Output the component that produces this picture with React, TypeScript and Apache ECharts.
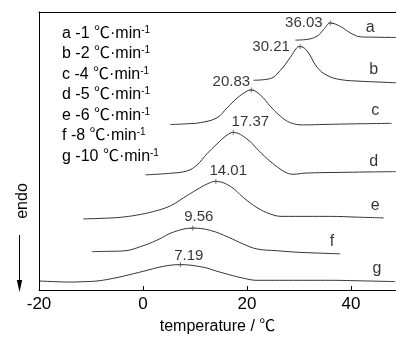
import React, { useEffect, useRef } from 'react';
import * as echarts from 'echarts';

const curveNames = ['a', 'b', 'c', 'd', 'e', 'f', 'g'];
const coolingRates = ['-1', '-2', '-4', '-5', '-6', '-8', '-10'];
const peakTemps = [36.03, 30.21, 20.83, 17.37, 14.01, 9.56, 7.19];

const curveA = [[29.29, 255.3], [31.54, 256], [33.46, 259.3], [34.73, 266], [36.03, 272.7], [37.94, 269.3], [39.87, 262.7], [41.79, 258.7], [44.29, 258.3], [48.65, 258]];
const curveB = [[21.27, 214.3], [24.48, 216], [26.4, 224.3], [28.33, 237.7], [29.62, 247.7], [30.21, 248.7], [31.54, 244.3], [33.46, 227.7], [35.38, 219.3], [37.94, 215], [41.79, 213.3], [45.2, 212.5], [48.65, 211.7]];
const curveC = [[5.25, 169], [8.2, 169.8], [11.02, 171], [14.23, 176], [16.15, 186], [18.08, 196], [20.0, 203.3], [20.83, 204.3], [22.56, 199.3], [24.48, 187.7], [26.4, 177.7], [28.33, 171], [30.88, 168.7], [35.0, 169.2], [41.0, 169.8], [47.8, 170.3]];
const curveD = [[0.44, 117.7], [5.25, 119.3], [8.46, 121.7], [10.38, 127.7], [12.31, 139.3], [14.23, 149.3], [16.15, 158.3], [17.37, 161], [20.0, 154.3], [21.92, 144.3], [23.85, 134.3], [25.9, 125.5], [27.6, 119.8], [29.0, 118.3], [31.0, 119.4], [35.0, 120.0], [39.23, 120.3], [44.0, 120.7], [48.65, 121]];
const curveE = [[-11.48, 72.7], [-7.9, 73.3], [-4.37, 74.3], [-1.2, 76.6], [2.04, 80.3], [5.25, 86], [7.81, 94.3], [10.38, 102.7], [12.31, 108.3], [14.01, 111], [16.79, 106], [19.35, 94.3], [21.92, 84.3], [24.48, 77.7], [26.73, 75.3], [31.4, 75.3], [36.02, 75.3], [41.2, 74.5], [46.27, 73.7]];
const curveF = [[-9.81, 39.3], [-6.8, 39.6], [-3.73, 40], [-0.52, 44.3], [2.69, 51], [5.88, 59.3], [9.56, 63.3], [12.94, 61], [16.4, 54], [19.29, 47], [21.92, 42], [25.8, 40.2], [29.62, 38.7], [33.8, 37.8], [37.94, 37]];
const curveG = [[-19.9, 9.3], [-16.9, 8.6], [-13.98, 8.2], [-11.4, 8.6], [-8.85, 9.3], [-6.3, 11.4], [-3.73, 14.3], [0.12, 19.3], [3.96, 24.3], [7.19, 26], [11.65, 23.3], [14.0, 19.6], [16.4, 16], [19.2, 12.3], [21.92, 10], [29.0, 10], [36.02, 10], [42.3, 9.4], [48.5, 8.7]];
const curves = [curveA, curveB, curveC, curveD, curveE, curveF, curveG];

// annotation anchor positions (data coords) for the curve letters
const letterPos = [[43.71, 269.3], [44.35, 226], [44.67, 184.3], [44.35, 132.7], [44.67, 87.7], [36.35, 51], [45.0, 22.7]];
// peak label offsets (px) relative to peak marker
const peakLabelOffsets = [[-26.5, -1.3], [-29, -0.6], [-20, -10], [17, -12], [12.4, -12], [6, -12.7], [8.4, -10]];

const FONT = '"Liberation Sans", Arial, "Noto Sans CJK SC", sans-serif';
const LINE = '#333';

export default function App() {
  const ref = useRef<HTMLDivElement>(null);
  useEffect(() => {
    if (!ref.current) return;
    const chart = echarts.init(ref.current, null, { renderer: 'svg' });

    const peakData = curves.map((c, i) => {
      const y = c.reduce((m, p) => (p[1] > m ? p[1] : m), -Infinity);
      return {
        value: [peakTemps[i], y],
        label: { offset: peakLabelOffsets[i] },
      };
    });

    const lineSeries = curves.map((c, i) => ({
      type: 'line',
      name: curveNames[i],
      data: c,
      showSymbol: false,
      smooth: 0.4,
      lineStyle: { color: LINE, width: 1 },
      silent: true,
    }));

    const legendTexts = curveNames.map((n, i) => ({
      type: 'text',
      x: 62,
      y: 32.3 + i * 20.45,
      style: {
        text: `{t|${n} ${coolingRates[i]} ℃·min}{s|-1}`,
        verticalAlign: 'middle',
        fill: '#000',
        rich: {
          t: { fontSize: 16, fontFamily: FONT, fill: '#000' },
          s: { fontSize: 10, fontFamily: FONT, fill: '#000', verticalAlign: 'top' },
        },
      },
    }));

    chart.setOption({
      animation: false,
      grid: { left: 39, right: 0, top: 12, bottom: 42 },
      xAxis: [
        {
          type: 'value',
          min: -20,
          max: 48.65,
          interval: 20,
          position: 'bottom',
          axisLine: { show: true, onZero: false, lineStyle: { color: '#000', width: 1 } },
          axisTick: { show: true, inside: true, length: 4, lineStyle: { color: '#000' } },
          axisLabel: {
            color: '#000',
            fontSize: 17,
            fontFamily: FONT,
            margin: 5,
            showMaxLabel: false,
            formatter: (v: number) => (v % 20 === 0 ? String(v) : ''),
          },
          splitLine: { show: false },
          name: 'temperature / ℃',
          nameLocation: 'middle',
          nameGap: 23,
          nameTextStyle: { color: '#000', fontSize: 16, fontFamily: FONT },
        },
        {
          type: 'value',
          min: -20,
          max: 48.65,
          position: 'top',
          axisLine: { show: true, onZero: false, lineStyle: { color: '#000', width: 1 } },
          axisTick: { show: false },
          axisLabel: { show: false },
          splitLine: { show: false },
        },
      ],
      yAxis: {
        type: 'value',
        min: 0,
        max: 284,
        position: 'left',
        axisLine: { show: true, onZero: false, lineStyle: { color: '#000', width: 1 } },
        axisTick: { show: false },
        axisLabel: { show: false },
        splitLine: { show: false },
      },
      series: [
        ...lineSeries,
        {
          type: 'scatter',
          data: peakData,
          symbol: 'path://M5,0L5,10M0,5L10,5',
          symbolSize: 5,
          itemStyle: { color: 'none', borderColor: '#555', borderWidth: 1 },
          label: {
            show: true,
            position: 'inside',
            formatter: (p: any) => p.value[0].toFixed(2),
            color: '#000',
            fontSize: 15,
            fontFamily: FONT,
          },
          silent: true,
          z: 3,
        },
        {
          type: 'scatter',
          data: letterPos.map((p, i) => ({ value: p, name: curveNames[i] })),
          symbolSize: 0,
          label: {
            show: true,
            position: 'inside',
            formatter: (p: any) => p.name,
            color: '#000',
            fontSize: 16,
            fontFamily: FONT,
          },
          silent: true,
        },
      ],
      graphic: [
        ...legendTexts,
        {
          type: 'text',
          x: 21,
          y: 201,
          rotation: Math.PI / 2,
          style: {
            text: 'endo',
            fontSize: 16,
            fontFamily: FONT,
            fill: '#000',
            align: 'center',
            verticalAlign: 'middle',
          },
        },
        {
          type: 'line',
          shape: { x1: 19.5, y1: 235, x2: 19.5, y2: 283 },
          style: { stroke: '#000', lineWidth: 1 },
        },
        {
          type: 'polygon',
          shape: { points: [[16.8, 280], [22.2, 280], [19.5, 292]] },
          style: { fill: '#000' },
        },
      ],
    });
    return () => chart.dispose();
  }, []);
  return <div ref={ref} style={{ position: 'fixed', left: 0, top: 0, width: 396, height: 338 }} />;
}
